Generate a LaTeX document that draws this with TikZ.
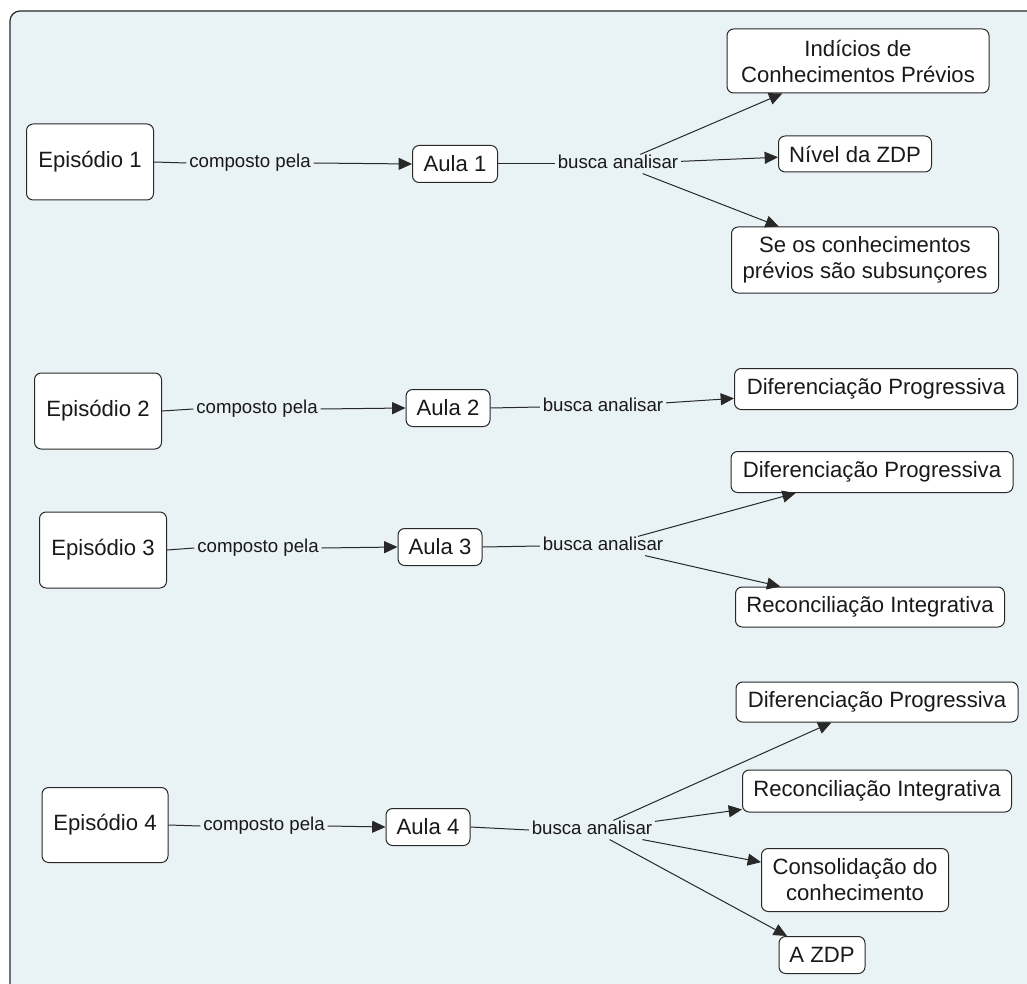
\documentclass[tikz,border=0pt]{standalone}
\usepackage{fontspec}
\setmainfont{Liberation Sans}
\usetikzlibrary{arrows.meta}
\definecolor{panel}{RGB}{233,242,244}
\definecolor{edge}{RGB}{40,40,40}
\definecolor{ink}{RGB}{25,25,25}
\tikzset{
  box/.style={draw=edge, fill=white, line width=0.75pt, rounded corners=5pt,
    align=center, inner sep=0pt, text=ink, font=\fontsize{16.6pt}{19.5pt}\selectfont},
  lbl/.style={inner xsep=2pt, inner ysep=0.5pt, text height=10pt, text depth=3pt,
    text=ink, font=\fontsize{14pt}{16pt}\selectfont},
  conn/.style={draw=edge, line width=0.75pt},
  arr/.style={conn, -{Triangle[length=10pt,width=9pt]}}
}
\begin{document}
\begin{tikzpicture}[x=0.75pt,y=-0.75pt]
\useasboundingbox (0,0) rectangle (1027,984);
\clip (0,0) rectangle (1027,984);
\draw[draw=edge, line width=0.9pt, fill=panel, rounded corners=7.5pt] (10,11) rectangle (1060,1020);

% Episode 1
\node[box, minimum width=95.25pt, minimum height=57pt] (e1) at (90,162) {Episódio 1};
\node[lbl] (c1) at (250,163) {composto pela};
\node[box, minimum width=63.75pt, minimum height=27.75pt] (a1) at (455,164) {Aula 1};
\node[lbl] (b1) at (618,164) {busca analisar};
\node[box, minimum width=196.5pt, minimum height=48pt] (t11) at (858,61) {Indícios de\\Conhecimentos Prévios};
\node[box, minimum width=114.75pt, minimum height=27pt] (t12) at (855,154) {Nível da ZDP};
\node[box, minimum width=200.25pt, minimum height=49.5pt] (t13) at (865,260) {Se os conhecimentos\\prévios são subsunçores};

% Episode 2
\node[box, minimum width=95.25pt, minimum height=57pt] (e2) at (98,411) {Episódio 2};
\node[lbl] (c2) at (257,409) {composto pela};
\node[box, minimum width=63pt, minimum height=27.75pt] (a2) at (448,408) {Aula 2};
\node[lbl] (b2) at (603,407) {busca analisar};
\node[box, minimum width=212.25pt, minimum height=30.75pt] (t21) at (876,389) {Diferenciação Progressiva};

% Episode 3
\node[box, minimum width=95.25pt, minimum height=57pt] (e3) at (103,550) {Episódio 3};
\node[lbl] (c3) at (258,548) {composto pela};
\node[box, minimum width=63pt, minimum height=27.75pt] (a3) at (440,547) {Aula 3};
\node[lbl] (b3) at (603,546) {busca analisar};
\node[box, minimum width=211.5pt, minimum height=30.75pt] (t31) at (872,472) {Diferenciação Progressiva};
\node[box, minimum width=201.75pt, minimum height=30pt] (t32) at (870,607) {Reconciliação Integrativa};

% Episode 4
\node[box, minimum width=94.5pt, minimum height=56.25pt] (e4) at (105,825) {Episódio 4};
\node[lbl] (c4) at (264,826) {composto pela};
\node[box, minimum width=63pt, minimum height=27.75pt] (a4) at (428,827) {Aula 4};
\node[lbl] (b4) at (592,830) {busca analisar};
\node[box, minimum width=211.5pt, minimum height=30pt] (t41) at (877,702) {Diferenciação Progressiva};
\node[box, minimum width=201.75pt, minimum height=31.5pt] (t42) at (877,791) {Reconciliação Integrativa};
\node[box, minimum width=140.25pt, minimum height=47.25pt] (t43) at (855,880) {Consolidação do\\conhecimento};
\node[box, minimum width=64.5pt, minimum height=27.75pt] (t44) at (822,955) {A ZDP};

% connectors
\draw[conn] (e1.east) -- (c1.west);
\draw[arr] (c1.east) -- (a1.west);
\draw[conn] (a1.east) -- (b1.west);
\draw[arr] (b1) -- (t11);
\draw[arr] (b1) -- (t12);
\draw[arr] (b1) -- (t13);

\draw[conn] (e2.east) -- (c2.west);
\draw[arr] (c2.east) -- (a2.west);
\draw[conn] (a2.east) -- (b2.west);
\draw[arr] (b2) -- (t21);

\draw[conn] (e3.east) -- (c3.west);
\draw[arr] (c3.east) -- (a3.west);
\draw[conn] (a3.east) -- (b3.west);
\draw[arr] (b3) -- (t31);
\draw[arr] (b3) -- (t32);

\draw[conn] (e4.east) -- (c4.west);
\draw[arr] (c4.east) -- (a4.west);
\draw[conn] (a4.east) -- (b4.west);
\draw[arr] (b4) -- (t41);
\draw[arr] (b4) -- (t42);
\draw[arr] (b4) -- (t43);
\draw[arr] (b4) -- (t44);
\end{tikzpicture}
\end{document}
